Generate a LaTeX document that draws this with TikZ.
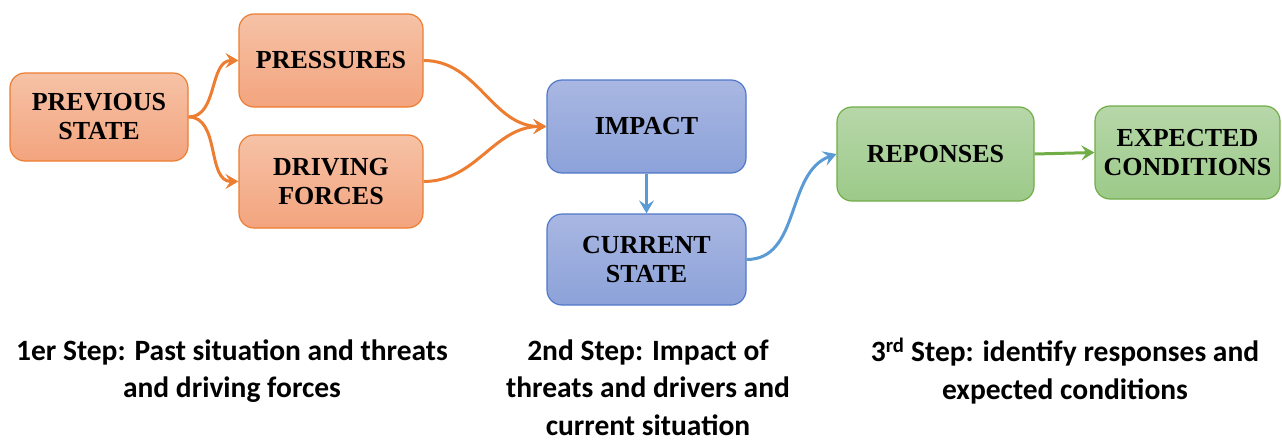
\documentclass[tikz,border=0pt]{standalone}
\usepackage{fontspec}
\setmainfont{Liberation Serif}
\newfontfamily\capfont{Carlito}
\usetikzlibrary{arrows.meta}

\definecolor{orangeline}{HTML}{ED7D31}
\definecolor{orangetop}{HTML}{F6C2A6}
\definecolor{orangebot}{HTML}{F3A47E}
\definecolor{blueline}{HTML}{4F78C8}
\definecolor{bluetop}{HTML}{A9B7E2}
\definecolor{bluebot}{HTML}{8CA2D9}
\definecolor{bluearrow}{HTML}{5B9BD5}
\definecolor{greenline}{HTML}{70AD47}
\definecolor{greentop}{HTML}{B7D7A9}
\definecolor{greenbot}{HTML}{9CCA89}

\begin{document}
\begin{tikzpicture}[x=1pt,y=-1pt,
  box/.style={rounded corners=15pt, line width=1.2pt, inner sep=0pt, align=center,
    font=\bfseries\fontsize{26}{29}\selectfont},
  orangebox/.style={box, draw=orangeline, top color=orangetop, bottom color=orangebot},
  bluebox/.style={box, draw=blueline, top color=bluetop, bottom color=bluebot},
  greenbox/.style={box, draw=greenline, top color=greentop, bottom color=greenbot},
  flowline/.style={line width=3pt, -{Stealth[length=13pt,width=15pt,inset=5pt]}},
  orangeflow/.style={flowline, draw=orangeline},
  blueflow/.style={flowline, draw=bluearrow},
  greenflow/.style={flowline, draw=greenline},
  caption/.style={align=center, font=\capfont\bfseries\fontsize{29.5}{37.5}\selectfont}
]
\useasboundingbox (0,0) rectangle (1282,439);

% step 1: past situation
\node[orangebox, minimum width=178pt, minimum height=88pt] (prev) at (99,117) {PREVIOUS\\STATE};
\node[orangebox, minimum width=184pt, minimum height=93pt] (press) at (331,60.5) {PRESSURES};
\node[orangebox, minimum width=184pt, minimum height=93pt] (drive) at (331,181.5) {DRIVING\\FORCES};

% step 2: impact and present state
\node[bluebox, minimum width=199pt, minimum height=93pt] (impact) at (646.5,126.5) {IMPACT};
\node[bluebox, minimum width=199pt, minimum height=91pt] (current) at (646.5,259.5) {CURRENT\\STATE};

% step 3: responses
\node[greenbox, minimum width=197pt, minimum height=94pt] (resp) at (935.5,154) {REPONSES};
\node[greenbox, minimum width=185pt, minimum height=93pt] (expect) at (1187.5,152.5) {EXPECTED\\CONDITIONS};

% connectors
\draw[orangeflow] (prev.east) to[out=0,in=180] (press.west);
\draw[orangeflow] (prev.east) to[out=0,in=180] (drive.west);
\draw[orangeflow] (press.east) to[out=0,in=180] (impact.west);
\draw[orangeflow] (drive.east) to[out=0,in=180] (impact.west);
\draw[blueflow] (impact.south) -- (current.north);
\draw[blueflow] (current.east) to[out=0,in=200] (resp.west);
\draw[greenflow] (resp.east) -- (expect.west);

% step captions
\node[caption] (cap1) at (232,371) {1er Step: Past situation and threats\\and driving forces};
\node[caption] (cap2) at (648,387.5) {2nd Step: Impact of\\threats and drivers and\\current situation};
\node[caption] (cap3) at (1065,371) {3\textsuperscript{rd} Step: identify responses and\\expected conditions};
\end{tikzpicture}
\end{document}
